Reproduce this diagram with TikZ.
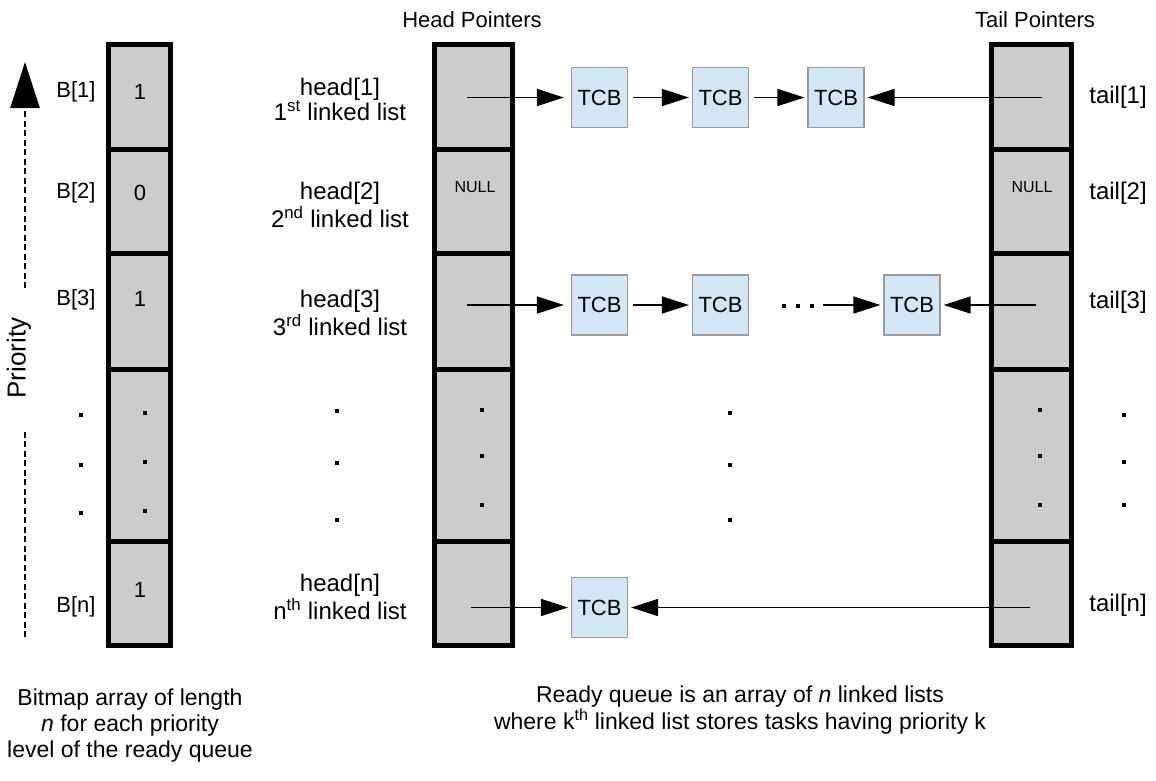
\documentclass[tikz,border=0pt]{standalone}
\usepackage{fontspec}
\setmainfont{Liberation Sans}
\usetikzlibrary{arrows.meta, positioning, calc}
\definecolor{cellgray}{HTML}{CCCCCC}
\definecolor{tcbblue}{HTML}{D2E6F4}
\definecolor{tcbedge}{HTML}{9A9A9A}
\tikzset{
  % Array styles
  cell/.style={rectangle, draw=black, line width=5pt, fill=cellgray, minimum width=#1, inner sep=0pt},
  cell/.default={62pt},
  lbl/.style={inner sep=0pt, font=\fontsize{24}{25}\selectfont, align=center},
  idx/.style={inner sep=0pt, font=\fontsize{22}{24}\selectfont},
  small/.style={inner sep=0pt, font=\fontsize{16}{18}\selectfont},
  dot/.style={rectangle, fill=black, minimum size=4.5pt, inner sep=0pt},
  % List styles
  tcb/.style={rectangle, draw=tcbedge, line width=1.2pt, fill=tcbblue, minimum width=56pt, minimum height=60pt, inner sep=0pt, font=\fontsize{22}{24}\selectfont},
  ptr/.style={-{Triangle[length=27pt, width=17pt]}, line width=1.5pt, shorten >=3pt},
  prio/.style={dash pattern=on 6pt off 3.5pt, line width=2.5pt},
}

\begin{document}
\begin{tikzpicture}[x=1pt, y=-1pt]
    \useasboundingbox (0,0) rectangle (1156,780);

    % Bitmap, head and tail columns
    \foreach \i/\yc/\h in {1/96.75/104.5, 2/201/104, 3/311/116, 4/455/172, 5/593.25/104.5} {
      \node[cell=62pt, minimum height=\h] (b\i) at (139.5,\yc) {};
      \node[cell=78pt, minimum height=\h] (hp\i) at (473.5,\yc) {};
      \node[cell=80pt, minimum height=\h] (tp\i) at (1031.5,\yc) {};
    }

    % Bitmap values
    \node[idx] (v1) at (140,92) {1};
    \node[idx] (v2) at (140,193) {0};
    \node[idx] (v3) at (140,299) {1};
    \node[idx] (v5) at (140,590) {1};
    \node[small] (hnull) at (475,187) {NULL};
    \node[small] (tnull) at (1032,187) {NULL};

    % Row labels
    \node[idx] (B1) at (76,92) {B[1]};
    \node[idx] (B2) at (76,193) {B[2]};
    \node[idx] (B3) at (76,300) {B[3]};
    \node[idx] (Bn) at (76,607) {B[n]};

    \node[lbl] (hl1) at (340,99) {head[1]\\1\textsuperscript{st} linked list};
    \node[lbl] (hl2) at (340,205) {head[2]\\2\textsuperscript{nd} linked list};
    \node[lbl] (hl3) at (340,313) {head[3]\\3\textsuperscript{rd} linked list};
    \node[lbl] (hln) at (340,597) {head[n]\\n\textsuperscript{th} linked list};

    \node[lbl] (tl1) at (1118,97) {tail[1]};
    \node[lbl] (tl2) at (1118,193) {tail[2]};
    \node[lbl] (tl3) at (1118,302) {tail[3]};
    \node[lbl] (tln) at (1118,605) {tail[n]};

    \node[idx] (headcap) at (472,20) {Head Pointers};
    \node[idx] (tailcap) at (1035,20) {Tail Pointers};

    % Elided rows
    \foreach \x/\ya/\yb/\yc in {81/415/465/513, 145/413/462/511, 337/411/463/520, 482/410/456/505, 730/413/465/520, 1040/410/456/505, 1124/415/462/505}
      \foreach \y in {\ya,\yb,\yc}
        \node[dot] (d-\x-\y) at (\x,\y) {};

    % TCB lists
    \node[tcb] (q11) at (599.5,97.5) {TCB};
    \node[tcb] (q12) at (720.5,97.5) {TCB};
    \node[tcb] (q13) at (836,97.5) {TCB};

    \node[tcb] (q31) at (599.5,305) {TCB};
    \node[tcb] (q32) at (720.5,305) {TCB};
    \node[tcb] (q34) at (912,305) {TCB};
    \foreach \x in {784,798,812}
      \node[dot] (r-\x) at (\x,306) {};

    \node[tcb] (qn1) at (599.5,607.5) {TCB};

    % Pointer ends inside the cells
    \coordinate (s1) at (467,97.5);
    \coordinate (e1) at (1042,97.5);
    \coordinate (s3) at (467,305);
    \coordinate (g3) at (823,305);
    \coordinate (e3) at (1036,305);
    \coordinate (sn) at (471,607.5);
    \coordinate (en) at (1030,607.5);

    % Arrows
    \draw[ptr, shorten >=7pt] (s1) -- (q11);
    \draw[ptr, shorten <=5pt] (q11) -- (q12);
    \draw[ptr, shorten <=5pt] (q12) -- (q13);
    \draw[ptr] (e1) -- (q13);

    \draw[ptr, shorten >=7pt] (s3) -- (q31);
    \draw[ptr, shorten <=5pt] (q31) -- (q32);
    \draw[ptr] (g3) -- (q34);
    \draw[ptr] (e3) -- (q34);

    \draw[ptr] (sn) -- (qn1);
    \draw[ptr] (en) -- (qn1);

    % Priority axis
    \coordinate (pbot) at (25,637);
    \coordinate (plo) at (25,432);
    \coordinate (phi) at (25,288);
    \coordinate (ptop) at (25,62);
    \draw[prio] (pbot) -- (plo);
    \draw[prio, -{Triangle[length=46pt, width=29pt]}] (phi) -- (ptop);
    \node[inner sep=0pt, font=\fontsize{26}{28}\selectfont, rotate=90] (prio) at (19,358) {Priority};

    % Captions
    \node[lbl, font=\fontsize{23}{26}\selectfont] (bitcap) at (130,726) {Bitmap array of length\\\textit{n} for each priority\\level of the ready queue};
    \node[lbl, font=\fontsize{23}{24}\selectfont] (queuecap) at (740,710) {Ready queue is an array of \textit{n} linked lists\\where k\textsuperscript{th} linked list stores tasks having priority k};
  \end{tikzpicture}
\end{document}
